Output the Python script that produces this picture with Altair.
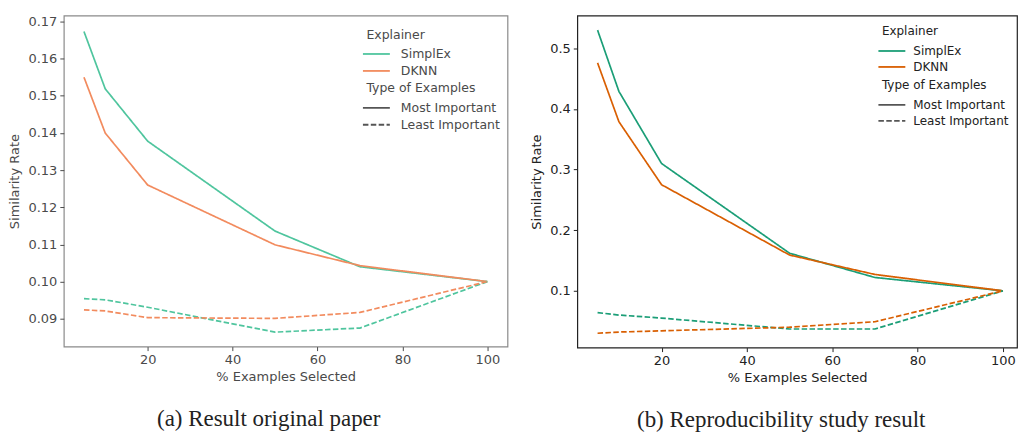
import altair as alt
import pandas as pd

# ---- data ----
pct = [5, 10, 20, 50, 70, 100]
explainers = ["SimplEx", "DKNN"]
types = ["Most Important", "Least Important"]

# (a) original paper
a_simplex_most = [0.1673, 0.1519, 0.1378, 0.1136, 0.1040, 0.1000]
a_dknn_most = [0.1550, 0.1400, 0.1260, 0.1099, 0.1043, 0.1000]
a_simplex_least = [0.0954, 0.0951, 0.0931, 0.0864, 0.0875, 0.1000]
a_dknn_least = [0.0924, 0.0921, 0.0903, 0.0901, 0.0917, 0.1000]

# (b) reproducibility study
b_simplex_most = [0.530, 0.429, 0.310, 0.162, 0.122, 0.100]
b_dknn_most = [0.476, 0.379, 0.275, 0.159, 0.127, 0.100]
b_simplex_least = [0.064, 0.060, 0.055, 0.037, 0.037, 0.100]
b_dknn_least = [0.030, 0.032, 0.034, 0.040, 0.049, 0.100]

a_yticks = [0.09, 0.10, 0.11, 0.12, 0.13, 0.14, 0.15, 0.16, 0.17]
b_yticks = [0.1, 0.2, 0.3, 0.4, 0.5]
xticks = [20, 40, 60, 80, 100]


def long_df(sm, dm, sl, dl):
    rows = []
    for series, expl, typ in [(sm, "SimplEx", "Most Important"),
                              (dm, "DKNN", "Most Important"),
                              (sl, "SimplEx", "Least Important"),
                              (dl, "DKNN", "Least Important")]:
        for xv, yv in zip(pct, series):
            rows.append({"x": xv, "y": yv, "Explainer": expl, "Type": typ})
    return pd.DataFrame(rows)


def panel(df, colors, xdom, ydom, yticks, yfmt, width, height, ink, frame,
          caption, cap_dx, leg_x, leg_y1, leg_y2, lab_off, leg_fs):
    font = "DejaVu Sans"
    axis_common = dict(grid=False, domain=False, labelFont=font, labelFontSize=13,
                       labelColor=ink, tickColor=ink, tickSize=4, tickWidth=1,
                       labelPadding=3, titleFont=font, titleFontSize=13,
                       titleFontWeight="normal", titleColor=ink)
    leg_common = dict(orient="none", symbolType="M-1.5,0H1.5", symbolSize=324,
                      symbolStrokeWidth=1.8, symbolFillColor="transparent",
                      labelFont=font, labelFontSize=leg_fs,
                      labelColor=ink, titleFont=font, titleFontSize=leg_fs,
                      titleFontWeight="normal", titleColor=ink, fillColor="white",
                      padding=4, rowPadding=0, titlePadding=3, labelOffset=lab_off,
                      legendX=leg_x)
    return alt.Chart(df).mark_line(strokeWidth=1.7, clip=True).encode(
        x=alt.X("x:Q", scale=alt.Scale(domain=xdom, nice=False, zero=False),
                axis=alt.Axis(values=xticks, title="% Examples Selected",
                              titlePadding=4, **axis_common)),
        y=alt.Y("y:Q", scale=alt.Scale(domain=ydom, nice=False, zero=False),
                axis=alt.Axis(values=yticks, format=yfmt, title="Similarity Rate",
                              titlePadding=6, **axis_common)),
        color=alt.Color("Explainer:N",
                        scale=alt.Scale(domain=explainers, range=colors),
                        legend=alt.Legend(title="Explainer", legendY=leg_y1,
                                          **leg_common)),
        strokeDash=alt.StrokeDash("Type:N",
                                  scale=alt.Scale(domain=types,
                                                  range=[[1, 0], [5.5, 2.4]]),
                                  legend=alt.Legend(title="Type of Examples",
                                                    legendY=leg_y2,
                                                    symbolStrokeColor="#555",
                                                    **leg_common)),
    ).properties(
        width=width, height=height,
        view=alt.ViewBackground(stroke=frame, strokeWidth=1.2),
        title=alt.TitleParams(caption, orient="bottom", anchor="middle",
                              font="Liberation Serif", fontSize=23,
                              fontWeight="normal", color="#222", offset=25,
                              dx=cap_dx),
    )


left = panel(long_df(a_simplex_most, a_dknn_most, a_simplex_least, a_dknn_least),
             ["#4fc59e", "#f28b5e"], [0.25, 104.75], [0.0825, 0.1716],
             a_yticks, ".2f", 445, 332, "#4a4a4a", "#8a8a8a",
             "(a) Result original paper", -17, 299.5, 9, 63, 14.5, 12.5)

right = panel(long_df(b_simplex_most, b_dknn_most, b_simplex_least, b_dknn_least),
              ["#1b9e77", "#d95f02"], [0.25, 103.3], [0.0063, 0.554],
              b_yticks, ".1f", 441, 333, "#222222", "#222222",
              "(b) Reproducibility study result", -16, 301.5, 6.5, 60.5, 11.5, 12)

chart = alt.hconcat(left, right, spacing=21).resolve_scale(
    color="independent", strokeDash="independent", x="independent", y="independent"
).properties(
    padding={"left": 8, "top": 14, "right": 0, "bottom": 0},
    background="white",
)

chart.save("out.html", embed_options={"renderer": "svg", "actions": False})
